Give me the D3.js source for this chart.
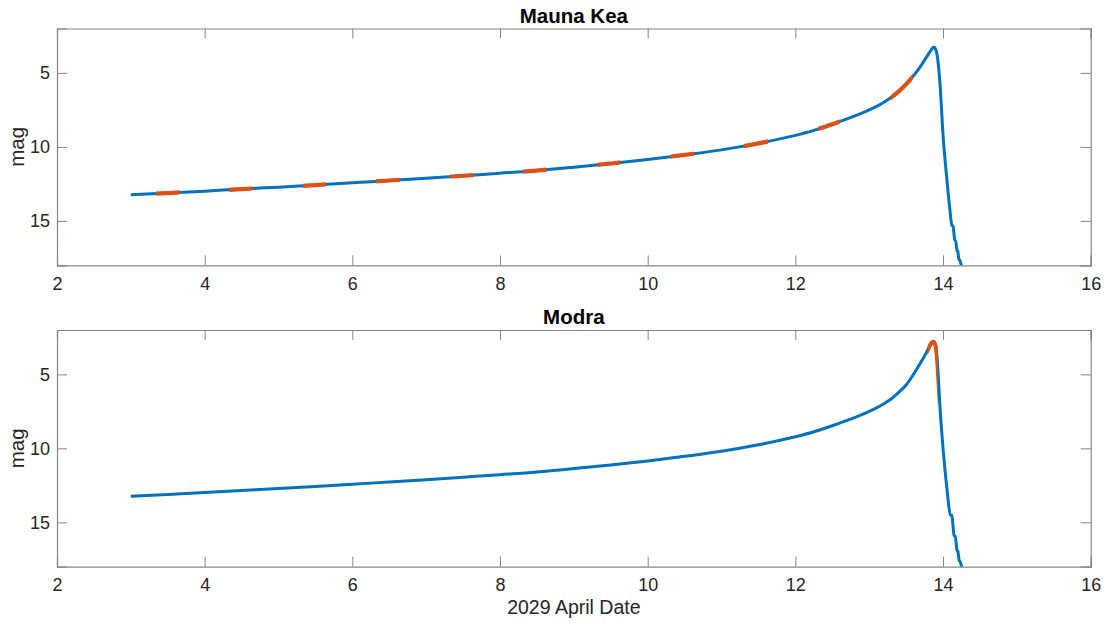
<!DOCTYPE html>
<html>
<head>
<meta charset="utf-8">
<script src="https://cdn.jsdelivr.net/npm/d3@7"></script>
<style>
  html, body { margin: 0; padding: 0; background: #fff; }
  svg { display: block; font-family: "Liberation Sans", Arial, Helvetica, sans-serif; }
</style>
</head>
<body>
<svg id="chart" width="1106" height="626"></svg>
<script>
// Apophis apparent magnitude through its April 2029 close approach,
// seen from two observatories. Orange marks the observable windows.

// Shared x-axis ticks (April date) and y-axis ticks (magnitude)
const xTicks = [2, 4, 6, 8, 10, 12, 14, 16];
const yTicks = [5, 10, 15];

// Mauna Kea: date (April 2029, days) and V magnitude
const maunaKeaDate = [3.0, 3.5, 4.0, 4.5, 5.0, 5.5, 6.0, 6.5, 7.0, 7.5, 8.0, 8.5, 9.0, 9.5,
  10.0, 10.5, 11.0, 11.5, 12.0, 12.25, 12.5, 12.6, 12.7, 12.8, 12.9, 13.0, 13.1, 13.2, 13.3,
  13.4, 13.5, 13.6, 13.7, 13.8, 13.85, 13.87, 13.885, 13.9, 13.92, 13.96, 14.0, 14.05, 14.09,
  14.12, 14.135, 14.16, 14.17, 14.19, 14.2, 14.215, 14.225, 14.3];
const maunaKeaMag = [13.23, 13.12, 12.99, 12.85, 12.72, 12.58, 12.43, 12.27, 12.12, 11.95,
  11.78, 11.6, 11.37, 11.12, 10.85, 10.54, 10.2, 9.76, 9.22, 8.88, 8.47, 8.29, 8.11, 7.92,
  7.72, 7.5, 7.26, 6.98, 6.65, 6.25, 5.77, 5.2, 4.52, 3.75, 3.38, 3.27, 3.26, 3.4, 3.79, 5.8,
  9.19, 12.1, 14.1, 15.3, 15.35, 16.3, 16.35, 17.0, 17.05, 17.6, 17.65, 19.5];

// Modra: date (April 2029, days) and V magnitude
const modraDate = [3.0, 3.5, 4.0, 4.5, 5.0, 5.5, 6.0, 6.5, 7.0, 7.5, 8.0, 8.5, 9.0, 9.5,
  10.0, 10.5, 11.0, 11.5, 12.0, 12.25, 12.5, 12.6, 12.7, 12.8, 12.9, 13.0, 13.1, 13.2, 13.3,
  13.4, 13.5, 13.6, 13.7, 13.75, 13.79, 13.82, 13.845, 13.865, 13.88, 13.9, 13.915, 13.93,
  13.96, 14.0, 14.05, 14.1, 14.12, 14.15, 14.165, 14.19, 14.2, 14.22, 14.23, 14.3];
const modraMag = [13.23, 13.12, 12.99, 12.85, 12.72, 12.58, 12.43, 12.27, 12.12, 11.95,
  11.78, 11.6, 11.37, 11.12, 10.85, 10.54, 10.2, 9.76, 9.22, 8.88, 8.47, 8.29, 8.11, 7.92,
  7.72, 7.5, 7.26, 6.98, 6.65, 6.22, 5.72, 5.0, 4.18, 3.75, 3.38, 3.07, 2.87, 2.8, 2.84, 3.1,
  3.6, 4.64, 7.3, 10.0, 12.6, 14.5, 14.55, 15.9, 15.95, 16.9, 16.95, 17.6, 17.65, 19.5];

// Observable windows [start, end] in April date
const maunaKeaWindows = [[3.34, 3.66], [4.33, 4.65], [5.33, 5.64], [6.32, 6.64], [7.32, 7.64],
  [8.31, 8.63], [9.32, 9.63], [10.31, 10.63], [11.30, 11.63], [12.31, 12.60], [13.29, 13.59]];
const modraWindows = [[13.79, 13.93]];

const panels = [
  { title: "Mauna Kea", date: maunaKeaDate, mag: maunaKeaMag, windows: maunaKeaWindows,
    top: 28.5, bottom: 265.3, xlabel: null },
  { title: "Modra", date: modraDate, mag: modraMag, windows: modraWindows,
    top: 330, bottom: 566.7, xlabel: "2029 April Date" }
];

const left = 57, right = 1090.7;
const blue = "#0072BD", orange = "#D95319";
const axisColor = "#868686", textColor = "#262626";
const tickLen = 10;

const svg = d3.select("#chart");
const defs = svg.append("defs");

panels.forEach((p, i) => {
  const x = d3.scaleLinear().domain([2, 16]).range([left, right]);
  const y = d3.scaleLinear().domain([2, 18]).range([p.top, p.bottom]);
  const h = p.bottom - p.top, w = right - left;

  const g = svg.append("g");

  // Plot clip so the descent stops at the axes edge
  const clipId = "clip" + i;
  defs.append("clipPath").attr("id", clipId)
    .append("rect").attr("x", left).attr("y", p.top).attr("width", w).attr("height", h);

  const pts = p.date.map((d, k) => [d, p.mag[k]]);
  const line = d3.line().x(d => x(d[0])).y(d => y(d[1])).curve(d3.curveMonotoneX);

  const plot = g.append("g").attr("clip-path", `url(#${clipId})`);
  plot.append("path").datum(pts)
    .attr("d", line).attr("fill", "none")
    .attr("stroke", blue).attr("stroke-width", 3)
    .attr("stroke-linejoin", "round");

  // Observable windows: same curve restricted to each date range
  p.windows.forEach((win, k) => {
    const wid = `win${i}_${k}`;
    defs.append("clipPath").attr("id", wid)
      .append("rect").attr("x", x(win[0])).attr("y", p.top)
      .attr("width", x(win[1]) - x(win[0])).attr("height", h);
    plot.append("g").attr("clip-path", `url(#${wid})`)
      .append("path").datum(pts)
      .attr("d", line).attr("fill", "none")
      .attr("stroke", orange).attr("stroke-width", 4.2)
      .attr("stroke-linejoin", "round");
  });

  // Axes: box with inward ticks on all four sides
  const axB = d3.axisBottom(x).tickValues(xTicks).tickSize(-tickLen).tickPadding(12);
  const axT = d3.axisTop(x).tickValues(xTicks).tickSize(-tickLen).tickFormat("");
  const axL = d3.axisLeft(y).tickValues(yTicks).tickSize(-tickLen).tickPadding(7);
  const axR = d3.axisRight(y).tickValues(yTicks).tickSize(-tickLen).tickFormat("");

  const gB = g.append("g").attr("transform", `translate(0,${p.bottom})`).call(axB);
  const gT = g.append("g").attr("transform", `translate(0,${p.top})`).call(axT);
  const gL = g.append("g").attr("transform", `translate(${left},0)`).call(axL);
  const gR = g.append("g").attr("transform", `translate(${right},0)`).call(axR);

  [gB, gT, gL, gR].forEach(a => {
    a.selectAll(".domain").attr("stroke", axisColor).attr("stroke-width", 1.2);
    a.selectAll(".tick line").attr("stroke", axisColor).attr("stroke-width", 1);
    a.selectAll("text").attr("fill", textColor).attr("font-size", 18)
      .attr("font-family", "'Liberation Sans', Arial, sans-serif");
  });

  // Title
  g.append("text").attr("x", (left + right) / 2).attr("y", p.top - 6)
    .attr("text-anchor", "middle").attr("font-size", 20.5).attr("font-weight", "bold")
    .attr("fill", "#000").text(p.title);

  // Y label
  g.append("text")
    .attr("transform", `translate(24,${(p.top + p.bottom) / 2}) rotate(-90)`)
    .attr("text-anchor", "middle").attr("font-size", 20.5).attr("fill", textColor)
    .text("mag");

  if (p.xlabel) {
    g.append("text").attr("x", (left + right) / 2).attr("y", p.bottom + 47)
      .attr("text-anchor", "middle").attr("font-size", 19.5).attr("fill", textColor)
      .text(p.xlabel);
  }
});
</script>
</body>
</html>
